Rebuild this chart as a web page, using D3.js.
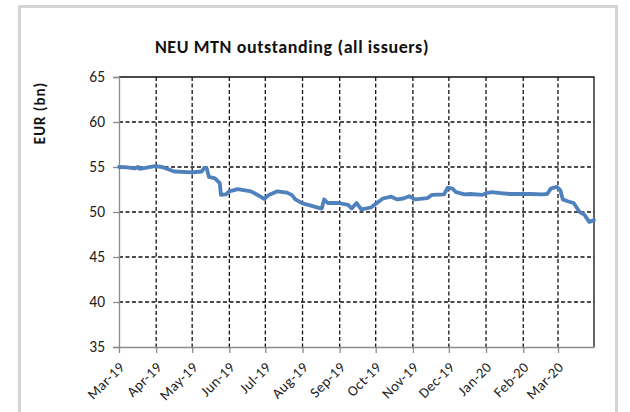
<!DOCTYPE html>
<html><head><meta charset="utf-8">
<script src="https://cdn.jsdelivr.net/npm/d3@7"></script>
<style>
html,body{margin:0;padding:0;background:#fff;}
svg{display:block;font-family:Carlito,Lato,"Open Sans",sans-serif;}
</style></head>
<body>
<script>
const title = "NEU MTN outstanding (all issuers)";
const yLabel = "EUR (bn)";
const yTicks = [35, 40, 45, 50, 55, 60, 65];
const monthTicks = ["2019-03-01","2019-04-01","2019-05-01","2019-06-01","2019-07-01","2019-08-01","2019-09-01","2019-10-01","2019-11-01","2019-12-01","2020-01-01","2020-02-01","2020-03-01"];
const dates = ["2019-03-01","2019-03-08","2019-03-14","2019-03-17","2019-03-18","2019-03-23","2019-03-31","2019-04-06","2019-04-16","2019-05-01","2019-05-09","2019-05-11","2019-05-13","2019-05-15","2019-05-20","2019-05-24","2019-05-25","2019-05-29","2019-06-01","2019-06-08","2019-06-19","2019-06-27","2019-06-30","2019-07-04","2019-07-11","2019-07-19","2019-07-23","2019-07-26","2019-08-01","2019-08-08","2019-08-16","2019-08-17","2019-08-19","2019-08-22","2019-08-31","2019-09-08","2019-09-11","2019-09-15","2019-09-19","2019-09-27","2019-10-02","2019-10-07","2019-10-14","2019-10-19","2019-10-24","2019-10-29","2019-11-03","2019-11-13","2019-11-17","2019-11-27","2019-11-30","2019-12-04","2019-12-07","2019-12-14","2019-12-19","2019-12-29","2020-01-01","2020-01-06","2020-01-13","2020-01-21","2020-01-30","2020-02-07","2020-02-17","2020-02-21","2020-02-24","2020-02-29","2020-03-03","2020-03-05","2020-03-09","2020-03-14","2020-03-19","2020-03-23","2020-03-27","2020-03-31"];
const values = [55.0,54.95,54.85,55.0,54.8,54.9,55.1,55.0,54.5,54.4,54.5,54.9,54.9,53.9,53.74,53.2,51.9,51.95,52.3,52.55,52.3,51.7,51.45,51.9,52.3,52.15,51.9,51.4,50.95,50.7,50.4,50.4,51.4,51.0,51.0,50.8,50.4,51.0,50.3,50.5,51.0,51.5,51.7,51.4,51.5,51.75,51.4,51.55,51.9,51.95,52.7,52.6,52.2,51.95,52.0,51.9,52.1,52.2,52.1,52.0,52.0,52.0,51.95,52.0,52.6,52.8,52.4,51.4,51.2,51.0,50.0,49.7,48.9,49.1];

(function(){
const W = 630, H = 412;
const parse = d3.utcParse("%Y-%m-%d");
const fmt = d3.utcFormat("%b-%y");
const data = dates.map((d,i)=>({date:parse(d), v:values[i]}));

const svg = d3.select("body").append("svg").attr("width",W).attr("height",H);

// outer frame
svg.append("rect").attr("x",19.5).attr("y",6.5).attr("width",597).attr("height",420)
  .attr("fill","#fff").attr("stroke","#d4d4d4").attr("stroke-width",3);

const pl = 119, pr = 594, pt = 77, pb = 347;
const x = d3.scaleUtc().domain([parse("2019-03-01"), parse("2020-03-31")]).range([pl, pr]);
const y = d3.scaleLinear().domain([35, 65]).range([pb, pt]);

// horizontal dashed gridlines
svg.append("g").selectAll("line").data(yTicks.filter(t=>t>35 && t<65)).join("line")
  .attr("x1",pl).attr("x2",pr).attr("y1",d=>y(d)).attr("y2",d=>y(d))
  .attr("stroke","#111").attr("stroke-width",1.3).attr("stroke-dasharray","4,2.5");
// vertical dashed gridlines
svg.append("g").selectAll("line").data(monthTicks.slice(1)).join("line")
  .attr("x1",d=>x(parse(d))).attr("x2",d=>x(parse(d))).attr("y1",pt).attr("y2",pb)
  .attr("stroke","#111").attr("stroke-width",1.3).attr("stroke-dasharray","4,2.5");
// top & right border
svg.append("path").attr("d",`M${pl},${pt}H${pr}V${pb}`)
  .attr("fill","none").attr("stroke","#111").attr("stroke-width",1.3);

// y axis
const yAxis = d3.axisLeft(y).tickValues(yTicks).tickSize(6).tickPadding(8);
const gy = svg.append("g").attr("transform",`translate(${pl},0)`).call(yAxis);
gy.select(".domain").attr("stroke","#8c8c8c").attr("stroke-width",1.3);
gy.selectAll(".tick line").attr("stroke","#8c8c8c").attr("stroke-width",1.3);
gy.selectAll(".tick text").attr("font-size",15.5).attr("fill","#222").attr("font-family","Carlito,Lato,sans-serif");

// x axis
const xAxis = d3.axisBottom(x).tickValues(monthTicks.map(parse)).tickFormat(fmt).tickSize(6).tickSizeOuter(0);
const gx = svg.append("g").attr("transform",`translate(0,${pb})`).call(xAxis);
gx.select(".domain").attr("stroke","#8c8c8c").attr("stroke-width",1.3);
gx.selectAll(".tick line").attr("stroke","#8c8c8c").attr("stroke-width",1.3);
gx.selectAll(".tick text").attr("font-size",14.5).attr("letter-spacing",0.4).attr("fill","#222").attr("font-family","Carlito,Lato,sans-serif")
  .attr("text-anchor","end").attr("dy",null).attr("y",0)
  .attr("transform","translate(6,21) rotate(-45)");

// line
const line = d3.line().x(d=>x(d.date)).y(d=>y(d.v)).curve(d3.curveLinear);
svg.append("path").datum(data).attr("d",line).attr("fill","none")
  .attr("stroke","#4f81bd").attr("stroke-width",3.8).attr("stroke-linejoin","round").attr("stroke-linecap","round");

// title
svg.append("text").attr("x",292).attr("y",53).attr("text-anchor","middle")
  .attr("font-size",18).attr("letter-spacing",0.6).attr("font-weight","bold").attr("fill","#111").text(title);
// y label
svg.append("text").attr("transform","translate(45,113) rotate(-90)").attr("text-anchor","middle")
  .attr("font-size",15).attr("letter-spacing",1).attr("font-weight","bold").attr("fill","#111").text(yLabel);
})();
</script>
</body></html>
